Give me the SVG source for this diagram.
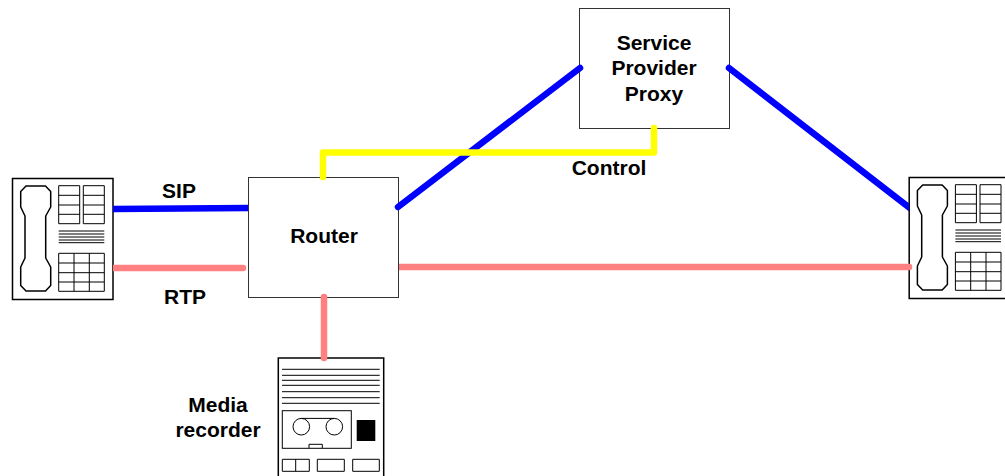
<svg xmlns="http://www.w3.org/2000/svg" width="1005" height="476" viewBox="0 0 1005 476">
<style>
.box{fill:#fff;stroke:#333;stroke-width:1}
.dev{fill:#fff;stroke:#000;stroke-width:1.5}
.ln{fill:none;stroke:#000;stroke-width:1}
.hs{fill:#fff;stroke:#000;stroke-width:1.5;stroke-linejoin:round}
.c{fill:none;stroke-width:6.500;stroke-linecap:round;stroke-linejoin:round}
.blue{stroke:#0000ff}.pink{stroke:#ff8080}.yellow{stroke:#ffff00}
text{font-family:"Liberation Sans",Arial,sans-serif;font-size:21px;font-weight:bold;fill:#000;text-anchor:middle}
</style>
<defs>
<clipPath id="right-of-phone"><rect x="113" y="0" width="892" height="476"/></clipPath>
<clipPath id="left-of-router"><rect x="113" y="0" width="135" height="476"/></clipPath>
<clipPath id="right-of-router"><rect x="399" y="0" width="606" height="476"/></clipPath>
<clipPath id="left-of-phone"><rect x="0" y="0" width="909" height="476"/></clipPath>
<g id="phone">
<rect class="dev" x="12.500" y="178.500" width="100.500" height="121"/>
<path class="hs" d="M26 186H45.500L50.700 191.500V207L45.700 216V258L50.700 267V285.500L45.500 291H26L20.700 285.500V267L25 258V216L20.700 207V191.500Z"/>
<path class="ln" d="M58.700 185.700H79.700V223.700H58.700ZM58.700 195.300H79.700M58.700 205H79.700M58.700 214.300H79.700M83.300 185.700H104.300V223.700H83.300ZM83.300 195.300H104.300M83.300 205H104.300M83.300 214.300H104.300M58.700 231H104.300M58.700 234H104.300M58.700 237H104.300M58.700 240H104.300M58.700 242.700H104.300M58.700 253.300H104.300V291.300H58.700ZM58.700 263H104.300M58.700 272.700H104.300M58.700 282H104.300M74 253.300V291.300M89.300 253.300V291.300"/>
</g>
</defs>
<g id="router"><rect class="box" x="248.500" y="177.500" width="150" height="120"/><text x="324" y="243">Router</text></g>
<g id="proxy"><rect class="box" x="579.500" y="8.500" width="150" height="120"/><text x="654" y="50">Service</text><text x="654" y="75">Provider</text><text x="654" y="101">Proxy</text></g>
<g id="phone-left"><use href="#phone"/></g>
<g id="phone-right"><use href="#phone" transform="translate(896.700 -1)"/></g>
<g id="recorder">
<rect class="dev" x="278.300" y="358" width="105.400" height="125"/>
<path class="ln" d="M282 369.300H379.700M282 375.300H379.700M282 380.300H379.700M282 385.300H379.700M282 391.700H379.700M282 397.700H379.700M282 403.300H379.700"/>
<rect class="ln" x="282.300" y="410.700" width="69" height="37.600"/>
<circle class="ln" cx="301.300" cy="426.700" r="8.300"/>
<circle class="ln" cx="334.300" cy="426.700" r="8.300"/>
<path class="ln" d="M301.300 418.400H334.300M309 448.300V444.300H322.300V448.300"/>
<rect x="356.700" y="420" width="18.600" height="21" fill="#000"/>
<path class="ln" d="M282.300 459.300H309.300V471.300H282.300ZM295.700 459.300V471.300M317.300 459.300H344.300V471.300H317.300ZM352.700 459.300H379.300V471.300H352.700Z"/>
</g>
<g id="connectors">
<path class="c blue" clip-path="url(#left-of-router)" d="M108 209L253 208"/>
<path class="c pink" clip-path="url(#right-of-phone)" d="M108 268H243"/>
<path class="c pink" clip-path="url(#right-of-router)" d="M394 267H909"/>
<path class="c pink" d="M324 297V358"/>
<path class="c blue" d="M398 207L580 68"/>
<path class="c blue" clip-path="url(#left-of-phone)" d="M729 68L915 212"/>
<path class="c yellow" d="M654 128V152.500H323V177"/>
</g>
<g id="labels">
<text x="179" y="198">SIP</text>
<text x="185" y="304">RTP</text>
<text x="609" y="175">Control</text>
<text x="218" y="412">Media</text>
<text x="218" y="437">recorder</text>
</g>
</svg>
